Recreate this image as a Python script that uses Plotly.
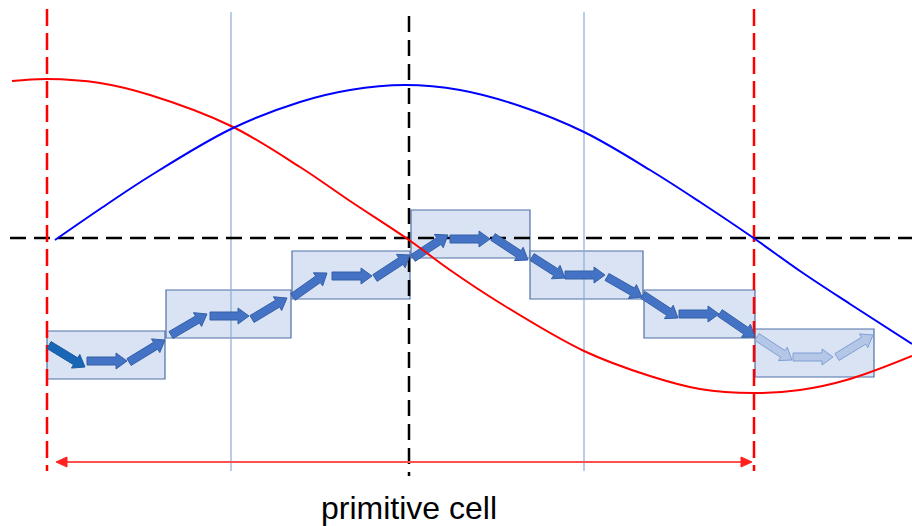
import numpy as np
import plotly.graph_objects as go

# ---------------- data (pixel-like units) ----------------
# sinusoidal waves
red_wave_x = [12, 47, 100, 150, 231, 300, 350, 409, 450, 500, 584, 650, 700, 754, 800, 850, 912]
red_wave_y = [81, 79, 83, 95, 126, 167, 201, 240, 270, 303, 351, 376, 389, 393, 390, 379, 356]
blue_wave_x = [55, 100, 150, 231, 300, 350, 405, 460, 520, 584, 650, 700, 755, 800, 850, 912]
blue_wave_y = [240, 209, 176, 129, 102, 90, 85, 90, 106, 132, 170, 202, 239, 271, 304, 344]

# cells (boxes)
box_left = [47, 166, 292, 411, 530, 644, 755]
box_right = [165, 291, 410, 530, 643, 755, 874]
box_top = [331, 290, 251, 210, 251, 290, 329]
box_bottom = [379, 338, 299, 258, 299, 338, 377]

# spin arrows: tail (x0, y0) -> tip (x1, y1); group 0 = dark, 1 = normal, 2 = faded
arrow_x0 = [49, 87, 129, 171, 210, 252, 293, 332, 375, 413, 450, 493, 532, 565, 607, 643, 679, 720, 757, 793, 837]
arrow_y0 = [345, 361, 362, 335, 316, 319, 297, 276, 278, 258, 239, 237, 257, 275, 277, 295, 314, 313, 337, 357, 357]
arrow_x1 = [85, 127, 165, 207, 249, 287, 327, 372, 410, 448, 490, 528, 565, 605, 642, 678, 719, 755, 792, 833, 873]
arrow_y1 = [367, 361, 340, 314, 316, 298, 273, 276, 255, 235, 239, 260, 278, 275, 297, 318, 314, 337, 360, 357, 335]
arrow_group = [0, 1, 1, 1, 1, 1, 1, 1, 1, 1, 1, 1, 1, 1, 1, 1, 1, 1, 2, 2, 2]

# reference lines
cell_edges_x = [47, 754]          # red dashed
center_x = 409                    # black dashed vertical
zero_level_y = 238                # black dashed horizontal
quarter_x = [231, 584]            # thin blue lines
cell_arrow_x = [56, 752]          # red double arrow
cell_arrow_y = 462
label_text = "primitive cell"

# ---------------- figure ----------------
W, H = 912, 526
fig = go.Figure()
shapes = []

# boxes
for l, r, t, b in zip(box_left, box_right, box_top, box_bottom):
    shapes.append(dict(type="rect", xref="x", yref="y", x0=l, x1=r, y0=t, y1=b,
                       fillcolor="#dae3f3", line=dict(color="#4f70a8", width=1.2),
                       layer="below"))

# thin blue verticals
for qx in quarter_x:
    shapes.append(dict(type="line", xref="x", yref="y", x0=qx, x1=qx, y0=12, y1=471,
                       line=dict(color="#8eaadb", width=1.2), layer="below"))

# black dashed lines
shapes.append(dict(type="line", xref="x", yref="y", x0=10, x1=912, y0=zero_level_y, y1=zero_level_y,
                   line=dict(color="#000000", width=2.5, dash="16px,8px"), layer="below"))
shapes.append(dict(type="line", xref="x", yref="y", x0=center_x, x1=center_x, y0=16, y1=476,
                   line=dict(color="#000000", width=2.5, dash="16px,8px"), layer="below"))

# red dashed cell edges
for ex in cell_edges_x:
    shapes.append(dict(type="line", xref="x", yref="y", x0=ex, x1=ex, y0=9, y1=471,
                       line=dict(color="#ff0000", width=2.5, dash="17px,7px"), layer="below"))

# red double arrow
shapes.append(dict(type="line", xref="x", yref="y", x0=cell_arrow_x[0] + 8, x1=cell_arrow_x[1] - 8,
                   y0=cell_arrow_y, y1=cell_arrow_y, line=dict(color="#ff5050", width=2)))
hl, hw = 11, 5
lx, rx = cell_arrow_x
shapes.append(dict(type="path", xref="x", yref="y",
                   path=f"M {lx} {cell_arrow_y} L {lx+hl} {cell_arrow_y-hw} L {lx+hl} {cell_arrow_y+hw} Z",
                   fillcolor="#ff2020", line=dict(color="#ff2020", width=1)))
shapes.append(dict(type="path", xref="x", yref="y",
                   path=f"M {rx} {cell_arrow_y} L {rx-hl} {cell_arrow_y-hw} L {rx-hl} {cell_arrow_y+hw} Z",
                   fillcolor="#ff2020", line=dict(color="#ff2020", width=1)))

# block arrows as filled traces
fills = {0: "#1767b6", 1: "#4472c4", 2: "#b4c7e7"}
edges = {0: "#1a5a9c", 1: "#3560a8", 2: "#7f9fd6"}
SHAFT, HEAD, HEADLEN = 4.0, 8.0, 11.0
for x0, y0, x1, y1, g in zip(arrow_x0, arrow_y0, arrow_x1, arrow_y1, arrow_group):
    p0 = np.array([x0, y0], float)
    p1 = np.array([x1, y1], float)
    d = p1 - p0
    L = np.hypot(*d)
    u = d / L
    n = np.array([-u[1], u[0]])
    b = p1 - u * HEADLEN
    pts = [p0 + n * SHAFT, b + n * SHAFT, b + n * HEAD, p1, b - n * HEAD, b - n * SHAFT,
           p0 - n * SHAFT, p0 + n * SHAFT]
    fig.add_trace(go.Scatter(x=[p[0] for p in pts], y=[p[1] for p in pts], mode="lines",
                             fill="toself", fillcolor=fills[g],
                             line=dict(color=edges[g], width=1), hoverinfo="skip",
                             showlegend=False))

# waves
fig.add_trace(go.Scatter(x=red_wave_x, y=red_wave_y, mode="lines",
                         line=dict(color="#ff0000", width=2, shape="spline", smoothing=1.0),
                         showlegend=False, hoverinfo="skip"))
fig.add_trace(go.Scatter(x=blue_wave_x, y=blue_wave_y, mode="lines",
                         line=dict(color="#0000ff", width=2, shape="spline", smoothing=1.0),
                         showlegend=False, hoverinfo="skip"))

fig.update_layout(
    width=W, height=H, autosize=False,
    margin=dict(l=0, r=0, t=0, b=0),
    paper_bgcolor="white", plot_bgcolor="white",
    shapes=shapes,
    xaxis=dict(range=[0, W], visible=False, fixedrange=True),
    yaxis=dict(range=[H, 0], visible=False, fixedrange=True),
    annotations=[dict(x=center_x, y=508, xref="x", yref="y", text=label_text,
                      showarrow=False, xanchor="center", yanchor="middle",
                      font=dict(family="Liberation Sans, Arial", size=32, color="#000000"))],
)

fig.write_html(
    "out.html",
    config={"displayModeBar": False},
    post_script="document.body.style.margin='0';document.body.style.overflow='hidden';",
)
